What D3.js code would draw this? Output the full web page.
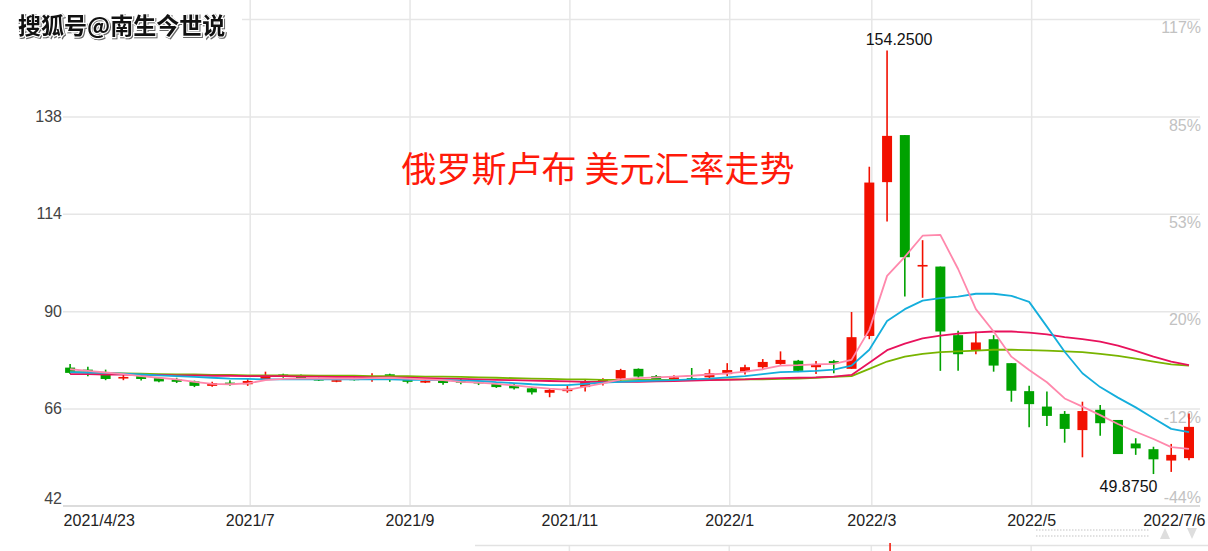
<!DOCTYPE html>
<html><head><meta charset="utf-8">
<script src="https://cdn.jsdelivr.net/npm/d3@7/dist/d3.min.js"></script>
<style>
html,body{margin:0;padding:0;background:#fff;}
svg{display:block;font-family:"Liberation Sans",Arial,sans-serif;}
</style></head>
<body><svg id="c" width="1208" height="551"></svg>
<script>
const dates = ["2021/4/23","2021/4/30","2021/5/7","2021/5/14","2021/5/21","2021/5/28","2021/6/4","2021/6/11","2021/6/18","2021/6/25",
"2021/7/2","2021/7/9","2021/7/16","2021/7/23","2021/7/30","2021/8/6","2021/8/13","2021/8/20","2021/8/27","2021/9/3",
"2021/9/10","2021/9/17","2021/9/24","2021/10/1","2021/10/8","2021/10/15","2021/10/22","2021/10/29","2021/11/5","2021/11/12",
"2021/11/19","2021/11/26","2021/12/3","2021/12/10","2021/12/17","2021/12/24","2021/12/31","2022/1/7","2022/1/14","2022/1/21",
"2022/1/28","2022/2/4","2022/2/11","2022/2/18","2022/2/25","2022/3/4","2022/3/11","2022/3/18","2022/3/25","2022/4/1",
"2022/4/8","2022/4/15","2022/4/22","2022/4/29","2022/5/6","2022/5/13","2022/5/20","2022/5/27","2022/6/3","2022/6/10",
"2022/6/17","2022/6/24","2022/7/1","2022/7/6"];
const open  = [76.1,75.6,74.3,73.5,74.0,73.5,73.2,72.7,71.6,72.4, 72.0,73.1,74.4,74.0,73.3,72.7,73.4,73.5,74.45,73.1,
 72.5,73.05,72.8,72.6,72.1,71.8,71.0,69.9,70.3,71.3, 72.6,73.4,75.8,74.0,73.2,73.5,73.7,74.5,75.0,76.2,
 77.0,77.8,76.2,77.7,75.8,83.9,121.8,133.4,101.0,101.0, 84.1,80.2,83.1,77.2,70.3,66.5,64.7,60.7,65.7,63.2,
 57.4,56.0,53.2,53.8];
const high  = [77.0,76.3,75.6,74.3,74.1,73.8,73.6,72.9,72.6,73.0, 73.5,75.1,74.6,74.4,73.6,73.3,73.6,74.7,74.6,73.3,
 73.1,73.2,73.3,72.8,72.3,72.1,71.15,70.9,71.6,73.05, 73.5,75.8,75.9,74.3,74.2,76.0,75.7,77.2,76.8,78.2,
 80.1,78.0,77.7,78.0,89.8,125.6,154.25,133.4,107.5,101.0, 85.2,85.0,84.1,77.2,71.6,70.2,65.4,67.7,66.9,63.2,
 58.7,56.6,57.3,64.8];
const low   = [74.5,74.0,73.0,73.0,72.9,72.5,72.3,71.3,71.4,71.6, 71.6,73.0,73.6,73.1,72.8,72.5,72.9,72.6,72.6,72.2,
 72.3,71.9,72.0,71.8,71.1,70.7,69.5,68.8,69.9,70.2, 71.7,72.7,73.2,72.9,72.9,73.05,73.2,74.0,74.4,75.5,
 76.8,75.0,74.5,74.7,75.8,83.1,112.1,93.6,93.3,75.3, 75.3,79.4,75.1,67.7,61.4,61.7,57.6,54.0,59.3,54.8,
 54.6,49.875,50.4,53.3];
const close = [74.8,75.2,73.3,73.8,73.3,72.7,72.6,71.6,72.3,72.0, 72.8,74.0,74.0,73.4,73.0,73.0,73.1,73.9,73.96,72.6,
 72.8,72.3,72.4,72.3,71.3,71.0,70.0,70.6,70.9,72.6, 73.2,75.5,73.9,73.2,73.7,73.2,74.7,75.5,76.2,77.5,
 78.0,75.3,77.0,77.2,83.6,121.7,133.2,103.3,101.4,85.0, 79.4,82.3,76.6,70.4,67.1,64.2,61.0,65.4,62.4,54.8,
 56.2,53.5,54.6,61.5];
const ma5  = [75.7,75.3,74.9,74.5,74.0,73.6,73.2,72.6,72.1,72.0, 72.2,73.0,73.3,73.4,73.4,73.4,73.4,73.5,73.6,73.4,
 73.2,73.0,72.6,72.4,72.1,71.7,71.3,70.9,70.6,71.4, 72.2,73.2,73.5,73.7,73.9,74.1,74.4,74.7,75.1,75.7,
 76.6,76.7,76.9,77.0,78.0,85.4,98.7,103.4,108.6,108.8, 100.4,90.5,85.0,78.8,75.5,72.5,68.5,66.5,64.4,62.2,
 60.3,58.5,56.5,56.1];
const ma10 = [75.0,74.9,74.8,74.6,74.4,74.2,74.0,73.8,73.6,73.4, 73.3,73.2,73.2,73.2,73.2,73.2,73.2,73.2,73.2,73.1,
 73.1,73.0,72.9,72.8,72.5,72.3,72.0,71.8,71.8,72.1, 72.4,72.6,72.8,72.9,73.0,73.2,73.4,73.7,74.0,74.5,
 75.0,75.1,75.3,75.6,76.6,80.5,87.6,90.5,92.6,93.2, 93.6,94.3,94.3,93.8,92.3,86.2,80.0,74.7,71.3,68.7,
 66.3,63.6,61.0,60.2];
const ma20 = [74.5,74.5,74.4,74.4,74.3,74.3,74.2,74.2,74.1,74.1, 74.0,74.0,74.0,73.9,73.9,73.8,73.8,73.7,73.7,73.6,
 73.5,73.4,73.3,73.2,73.1,73.0,72.9,72.8,72.7,72.6, 72.6,72.6,72.6,72.7,72.8,72.9,73.0,73.1,73.2,73.4,
 73.5,73.6,73.7,73.9,74.3,77.3,80.4,82.0,83.3,84.0, 84.5,84.8,85.0,85.0,84.7,84.3,83.6,83.1,82.5,81.5,
 80.2,78.8,77.6,76.7];
const ma30 = [75.0,74.9,74.8,74.7,74.6,74.5,74.4,74.4,74.3,74.3, 74.2,74.2,74.2,74.2,74.1,74.1,74.1,74.0,74.0,74.0,
 73.9,73.9,73.8,73.7,73.6,73.5,73.4,73.3,73.2,73.2, 73.1,73.1,73.1,73.1,73.1,73.1,73.1,73.2,73.2,73.2,
 73.3,73.4,73.6,73.8,74.0,75.8,77.6,78.8,79.5,79.9, 80.1,80.3,80.5,80.5,80.4,80.3,80.1,79.9,79.5,79.0,
 78.3,77.6,76.9,76.6];
const priceTicks = [138,114,90,66,42];
const gridValues = [162,138,114,90,66,42];
const pctLabels = ["117%","85%","53%","20%","-12%","-44%"];
const xTickIdx = [0,10,19,28,37,45,54,63];
const xTickLabels = ["2021/4/23","2021/7","2021/9","2021/11","2022/1","2022/3","2022/5","2022/7/6"];
const gridIdx = [10,19,28,37,45,54];
const title = "俄罗斯卢布 美元汇率走势";
const watermark = "搜狐号@南生今世说";

const svg = d3.select("#c");
const L = 63, R = 1200, T = 19, B = 506;
const x = d3.scaleLinear().domain([-0.4, 63.62]).range([L, R]);
const y = d3.scaleLinear().domain([42, 162]).range([B, T]);
const UP = "#f21000", DOWN = "#00a200";

// horizontal gridlines
const hg = svg.append("g").attr("transform", `translate(${L},0)`)
  .call(d3.axisLeft(y).tickValues(gridValues.slice(0,5)).tickSize(-(R - L)).tickFormat(""));
hg.select(".domain").remove();
hg.selectAll("line").attr("stroke", "#e6e6e6").attr("stroke-width", 1.5);

// vertical gridlines
const vg = svg.append("g").attr("transform", `translate(2,${B})`)
  .call(d3.axisBottom(x).tickValues(gridIdx).tickSize(-B).tickFormat(""));
vg.select(".domain").remove();
vg.selectAll("line").attr("stroke", "#e6e6e6").attr("stroke-width", 1.5);

// bottom axis line
svg.append("line").attr("x1", L).attr("x2", R).attr("y1", B).attr("y2", B)
  .attr("stroke", "#dcdcdc").attr("stroke-width", 2);

// left price labels
const la = svg.append("g").attr("transform", `translate(${L},0)`)
  .call(d3.axisLeft(y).tickValues(priceTicks).tickSize(0).tickPadding(1));
la.select(".domain").remove();
la.selectAll("text").attr("font-size", 16).attr("fill", "#444")
  .attr("dy", d => d === 42 ? "-0.15em" : "0.32em");

// right percentage labels
const ra = svg.append("g").attr("transform", `translate(${R + 1},0)`)
  .call(d3.axisLeft(y).tickValues(gridValues).tickSize(0).tickPadding(0).tickFormat((d, i) => pctLabels[i]));
ra.select(".domain").remove();
ra.selectAll("text").attr("font-size", 16).attr("fill", "#c2c2c2")
  .attr("dy", d => d === 42 ? "-0.2em" : "0.85em");

// x labels
const xa = svg.append("g").attr("transform", `translate(0,${B})`)
  .call(d3.axisBottom(x).tickValues(xTickIdx).tickSize(0).tickPadding(9).tickFormat((d, i) => xTickLabels[i]));
xa.select(".domain").remove();
xa.selectAll("text").attr("font-size", 16).attr("fill", "#222")
  .attr("text-anchor", (d, i) => i === 0 ? "start" : (i === xTickIdx.length - 1 ? "end" : "middle"))
  .attr("dx", (d, i) => i === 0 ? -7 : (i === xTickIdx.length - 1 ? 16 : 2));

// title
svg.append("text").attr("x", 598).attr("y", 182).attr("text-anchor", "middle")
  .attr("font-family", "'Noto Sans CJK SC',sans-serif").attr("font-size", 35).attr("fill", "#ff1a0a")
  .text(title);

// candles
const rows = dates.map((d, i) => ({i, o: open[i], h: high[i], l: low[i], c: close[i]}));
const cg = svg.append("g");
const cand = cg.selectAll("g").data(rows).join("g");
cand.append("line")
  .attr("x1", d => x(d.i)).attr("x2", d => x(d.i))
  .attr("y1", d => y(d.h)).attr("y2", d => y(d.l))
  .attr("stroke", d => d.c >= d.o ? UP : DOWN).attr("stroke-width", 1.6);
cand.append("rect")
  .attr("x", d => x(d.i) - 5).attr("width", 10)
  .attr("y", d => y(Math.max(d.o, d.c)))
  .attr("height", d => Math.max(1.6, Math.abs(y(d.o) - y(d.c))))
  .attr("fill", d => d.c >= d.o ? UP : DOWN);

// moving averages
const line = d3.line().x((d, i) => x(i)).y(d => y(d));
[[ma30, "#78b400"], [ma20, "#e8125c"], [ma10, "#14aedc"], [ma5, "#ff88ac"]].forEach(([arr, col]) => {
  svg.append("path").datum(arr).attr("d", line).attr("fill", "none")
    .attr("stroke", col).attr("stroke-width", 1.8).attr("stroke-linejoin", "round");
});

// extreme annotations
const iMax = high.indexOf(d3.max(high)), iMin = low.indexOf(d3.min(low));
svg.append("text").attr("x", x(iMax) + 12).attr("y", y(high[iMax]) - 5).attr("text-anchor", "middle")
  .attr("font-size", 16).attr("fill", "#111").text(d3.format(".4f")(high[iMax]));
svg.append("text").attr("x", x(iMin) + 4).attr("y", y(low[iMin]) + 18).attr("text-anchor", "end")
  .attr("font-size", 16).attr("fill", "#111").text(d3.format(".4f")(low[iMin]));

// lower panel fragment & scroller
svg.append("line").attr("x1", 475).attr("x2", 1208).attr("y1", 545.5).attr("y2", 545.5).attr("stroke", "#e2e2e2").attr("stroke-width", 1.5);
gridIdx.slice(2).forEach(i => svg.append("line").attr("x1", x(i) + 2).attr("x2", x(i) + 2).attr("y1", 546).attr("y2", 551).attr("stroke", "#e6e6e6").attr("stroke-width", 1.5));
svg.append("line").attr("x1", x(46) + 3).attr("x2", x(46) + 3).attr("y1", 543).attr("y2", 551).attr("stroke", UP).attr("stroke-width", 1.5);
[530, 536].forEach(yy => svg.append("line").attr("x1", 1036).attr("x2", 1150).attr("y1", yy).attr("y2", yy)
  .attr("stroke", "#d8d8d8").attr("stroke-width", 1.5).attr("stroke-dasharray", "1.5,1.5"));
svg.append("path").attr("d", "M1160,539 L1170,539 L1165,528 Z").attr("fill", "#dedede");
svg.append("path").attr("d", "M1187,528 L1197,528 L1192,539 Z").attr("fill", "#dedede");

// watermark
svg.append("rect").attr("x", 0).attr("y", 0).attr("width", 242).attr("height", 44).attr("fill", "#fff");
svg.append("text").attr("x", 18).attr("y", 34)
  .attr("font-family", "'Noto Sans CJK SC',sans-serif").attr("font-size", 23).attr("font-weight", "bold")
  .attr("fill", "#111").attr("stroke", "#fff").attr("stroke-width", 2.5).attr("paint-order", "stroke")
  .attr("style", "filter: drop-shadow(1px 1px 0.6px rgba(0,0,0,0.6))")
  .text(watermark);
</script></body></html>
